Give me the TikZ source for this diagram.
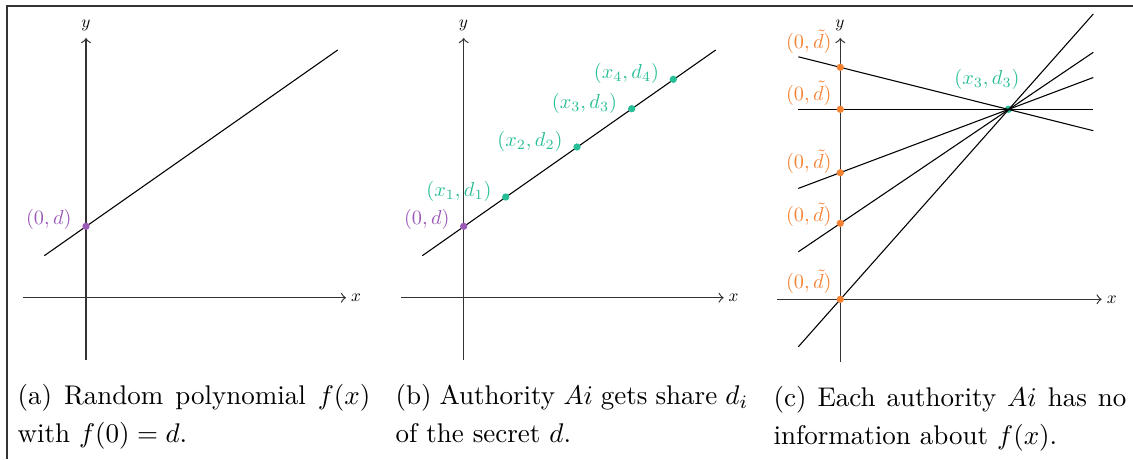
\documentclass[tikz,border=0pt]{standalone}
\usepackage{amsmath}
\usepackage{graphicx}
\definecolor{cpurple}{RGB}{155,89,182}
\definecolor{cgreen}{RGB}{38,190,150}
\definecolor{corange}{RGB}{245,130,50}
\newcommand{\smlab}[1]{\scalebox{0.75}{#1}}
\newcommand{\axl}[1]{\scalebox{0.64}{#1}}
\begin{document}
\begin{tikzpicture}[x=0.37037pt,y=-0.37037pt,
  axisline/.style={->,line width=0.45pt,black!80},
  fline/.style={line width=0.4pt,black},
  dotp/.style={circle,fill=#1,inner sep=0pt,minimum size=2.7pt},
  lab/.style={inner sep=0pt,text=#1,anchor=base east},
  axlab/.style={inner sep=0pt},
  captext/.style={anchor=north west,inner sep=0pt,text width=130.7pt,align=justify,font=\fontsize{10}{14}\selectfont},
  frameline/.style={line width=0.5pt,black!80}]
\useasboundingbox (0,0) rectangle (1133,459);
% frame
\coordinate (f1) at (7,459);
\coordinate (f2) at (7,6);
\coordinate (f3) at (1133,6);
\draw[frameline] (f1) -- (f2) -- (f3);

% ---------- panel (a)
\coordinate (ayb) at (86,360);
\coordinate (ayt) at (86,38);
\coordinate (axl) at (23,297.7);
\coordinate (axr) at (346,297.7);
\draw[axisline] (ayb) -- (ayt);
\draw[axisline] (axl) -- (axr);
\node[axlab] (aylab) at (86,25) {\axl{$y$}};
\node[axlab] (axlab) at (356,297.7) {\axl{$x$}};
\coordinate (al1) at (44.3,255.7);
\coordinate (al2) at (337.7,50);
\draw[fline] (al1) -- (al2);
\node[dotp=cpurple] (ad) at (86,226.3) {};
\node[lab=cpurple] (adl) at (72,224.7) {\smlab{$(0,d)$}};

% ---------- panel (b)
\coordinate (byb) at (463.7,360);
\coordinate (byt) at (463.7,38);
\coordinate (bxl) at (400.7,297.7);
\coordinate (bxr) at (723.7,297.7);
\draw[axisline] (byb) -- (byt);
\draw[axisline] (bxl) -- (bxr);
\node[axlab] (bylab) at (463.5,25) {\axl{$y$}};
\node[axlab] (bxlab) at (733.5,297.7) {\axl{$x$}};
\coordinate (bl1) at (422.3,255.7);
\coordinate (bl2) at (715.7,50);
\draw[fline] (bl1) -- (bl2);
\node[dotp=cpurple] (bd) at (463.7,226.3) {};
\node[lab=cpurple] (bdl) at (450,224.7) {\smlab{$(0,d)$}};
\node[dotp=cgreen] (b1) at (505.7,197) {};
\node[dotp=cgreen] (b2) at (577,147) {};
\node[dotp=cgreen] (b3) at (631.7,108.7) {};
\node[dotp=cgreen] (b4) at (673.3,79.3) {};
\node[lab=cgreen] (b1l) at (492,196.4) {\smlab{$(x_1,d_1)$}};
\node[lab=cgreen] (b2l) at (563,146.4) {\smlab{$(x_2,d_2)$}};
\node[lab=cgreen] (b3l) at (617.5,108) {\smlab{$(x_3,d_3)$}};
\node[lab=cgreen] (b4l) at (659.5,78.7) {\smlab{$(x_4,d_4)$}};

% ---------- panel (c)
\coordinate (cyb) at (840.3,362);
\coordinate (cyt) at (840.3,38);
\coordinate (cxl) at (777.3,299.3);
\coordinate (cxr) at (1101.7,299.3);
\draw[axisline] (cyb) -- (cyt);
\draw[axisline] (cxl) -- (cxr);
\node[axlab] (cylab) at (840,25) {\axl{$y$}};
\node[axlab] (cxlab) at (1111.7,299.3) {\axl{$x$}};
\node[dotp=cgreen] (cp) at (1008.3,109.3) {};
\coordinate (c1a) at (798.3,56.8);   \coordinate (c1b) at (1093.3,130.7);
\coordinate (c2a) at (798.3,109.3);  \coordinate (c2b) at (1093.3,109.3);
\coordinate (c3a) at (798.3,188.4);  \coordinate (c3b) at (1093.3,77.5);
\coordinate (c4a) at (798.3,251.8);  \coordinate (c4b) at (1093.3,52.3);
\coordinate (c5a) at (798.3,346.8);  \coordinate (c5b) at (1093.3,14);
\draw[fline] (c1a) -- (c1b);
\draw[fline] (c2a) -- (c2b);
\draw[fline] (c3a) -- (c3b);
\draw[fline] (c4a) -- (c4b);
\draw[fline] (c5a) -- (c5b);
\node[lab=cgreen] (cpl) at (1020,84.7) {\smlab{$(x_3,d_3)$}};
\node[dotp=corange] (c1) at (840.3,67.3) {};
\node[dotp=corange] (c2) at (840.3,109.3) {};
\node[dotp=corange] (c3) at (840.3,172.7) {};
\node[dotp=corange] (c4) at (840.3,223.3) {};
\node[dotp=corange] (c5) at (840.3,299.3) {};
\node[lab=corange] (c1l) at (832,48.7) {\smlab{$(0,\tilde{d})$}};
\node[lab=corange] (c2l) at (832,100.2) {\smlab{$(0,\tilde{d})$}};
\node[lab=corange] (c3l) at (832,168.5) {\smlab{$(0,\tilde{d})$}};
\node[lab=corange] (c4l) at (832,221.7) {\smlab{$(0,\tilde{d})$}};
\node[lab=corange] (c5l) at (832,288.4) {\smlab{$(0,\tilde{d})$}};

% ---------- captions
\node[captext] (capa) at (17,383.7) {(a) Random polynomial $f(x)$ with $f(0)=d$.};
\node[captext] (capb) at (395,383.7) {(b) Authority $Ai$ gets share $d_i$ of the secret $d$.};
\node[captext] (capc) at (773,385.5) {(c) Each authority $Ai$ has no information about $f(x)$.};
\end{tikzpicture}
\end{document}
